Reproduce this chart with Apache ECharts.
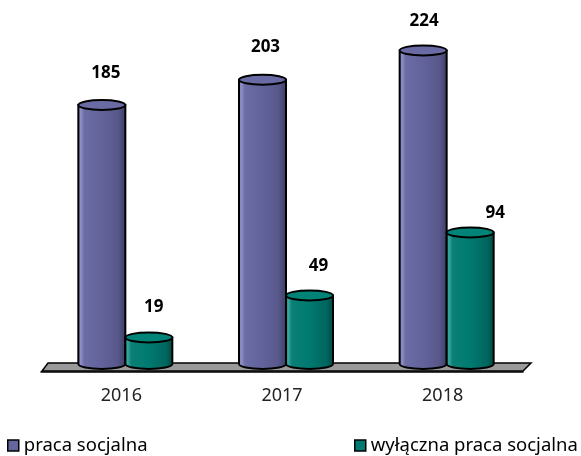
<!DOCTYPE html>
<html>
<head>
<meta charset="utf-8">
<title>Praca socjalna 2016-2018</title>
<script src="https://cdn.jsdelivr.net/npm/echarts@6/dist/echarts.min.js"></script>
</head>
<body style="margin:0">
<div id="main" style="width:581px;height:456px"></div>
<script>
var years = ['2016', '2017', '2018'];
var pracaSocjalna = [185, 203, 224];
var wylacznaPraca = [19, 49, 94];
var seriesNames = ['praca socjalna', 'wyłączna praca socjalna'];

// przesunięcia etykiet nad walcami (Excel rozłożył je nierówno)
var labelNudge = [
    [[4, -32], [3, -33], [1, -29]],
    [[5, -30], [9, -29], [25, -19]]
];

var FLOOR = 8;     // grubość "podłogi" 3D
var RX = 23.5, RY = 5;

var palette = [
    {
        side: '#66669e', cap: '#6a6aa4',
        stops: [[0, '#7272aa'], [0.07, '#9090c6'], [0.14, '#6c6ca6'], [0.5, '#63639b'], [0.82, '#58588c'], [1, '#3c3c64']]
    },
    {
        side: '#007a70', cap: '#008478',
        stops: [[0, '#128a80'], [0.07, '#38a69c'], [0.14, '#0a8076'], [0.5, '#007a70'], [0.85, '#00665e'], [1, '#004640']]
    }
];

function ellipsePath(cx, cy) {
    return 'M' + (cx - RX) + ' ' + cy +
        'A' + RX + ' ' + RY + ' 0 1 0 ' + (cx + RX) + ' ' + cy +
        'A' + RX + ' ' + RY + ' 0 1 0 ' + (cx - RX) + ' ' + cy + 'Z';
}

function cylinder(idx) {
    var pal = palette[idx];
    return function (params, api) {
        var c = api.value(0), v = api.value(1);
        var base = api.coord([c, 0]);
        var top = api.coord([c, v]);
        var cx = base[0] + 4 + (idx === 0 ? -RX : RX);
        var yb = base[1] - FLOOR, yt = top[1] - FLOOR;
        var body = 'M' + (cx - RX) + ' ' + yt + 'L' + (cx - RX) + ' ' + yb +
            'A' + RX + ' ' + RY + ' 0 0 0 ' + (cx + RX) + ' ' + yb +
            'L' + (cx + RX) + ' ' + yt + 'Z';
        var grad = new echarts.graphic.LinearGradient(0, 0, 1, 0, pal.stops.map(function (s) {
            return {offset: s[0], color: s[1]};
        }));
        var n = labelNudge[idx][params.dataIndex];
        return {
            type: 'group',
            children: [
                {type: 'path', shape: {pathData: body}, style: {fill: grad, stroke: '#000', lineWidth: 2}},
                {type: 'path', shape: {pathData: ellipsePath(cx, yt)}, style: {fill: pal.cap, stroke: '#000', lineWidth: 2}},
                {
                    type: 'text',
                    style: {
                        text: String(v), x: cx + n[0], y: yt + n[1],
                        align: 'center', verticalAlign: 'middle',
                        font: 'bold 17px "Noto Sans"', fill: '#000'
                    }
                }
            ]
        };
    };
}

var legendBase = {
    top: 436, padding: 0,
    icon: 'rect', itemWidth: 11, itemHeight: 11,
    itemStyle: {borderColor: '#000', borderWidth: 1.5},
    textStyle: {fontSize: 18.5, color: '#000', fontFamily: 'Noto Sans'}
};

var chart = echarts.init(document.getElementById('main'));
chart.setOption({
    animation: false,
    backgroundColor: '#fff',
    grid: {left: 41, right: 58, top: 22, bottom: 84},
    legend: [
        Object.assign({data: [seriesNames[0]], left: 7}, legendBase),
        Object.assign({data: [seriesNames[1]], left: 354}, legendBase)
    ],
    xAxis: {
        type: 'category',
        data: years,
        axisLine: {lineStyle: {color: '#000', width: 1.5}},
        axisTick: {length: 6, lineStyle: {color: '#000', width: 1.5}},
        axisLabel: {margin: 15, fontSize: 18, color: '#222', fontFamily: 'Noto Sans'}
    },
    yAxis: {
        type: 'value', min: 0, max: 250,
        show: false,
        splitLine: {show: false}
    },
    series: [
        {
            name: 'floor',
            type: 'custom',
            silent: true,
            z: 1,
            data: [[0, 0]],
            renderItem: function (params, api) {
                var cs = params.coordSys;
                var x0 = cs.x, x1 = cs.x + cs.width, y = cs.y + cs.height;
                return {
                    type: 'polygon',
                    shape: {points: [[x0 + 1, y - 1], [x1, y - 1], [x1 + 8, y - 9], [x0 + 7, y - 9]]},
                    style: {fill: '#9a9a9a', stroke: '#000', lineWidth: 1.5}
                };
            }
        },
        {
            name: seriesNames[0],
            type: 'custom',
            z: 3,
            itemStyle: {color: palette[0].side},
            data: pracaSocjalna.map(function (v, i) { return [i, v]; }),
            renderItem: cylinder(0)
        },
        {
            name: seriesNames[1],
            type: 'custom',
            z: 3,
            itemStyle: {color: palette[1].side},
            data: wylacznaPraca.map(function (v, i) { return [i, v]; }),
            renderItem: cylinder(1)
        }
    ]
});
</script>
</body>
</html>
